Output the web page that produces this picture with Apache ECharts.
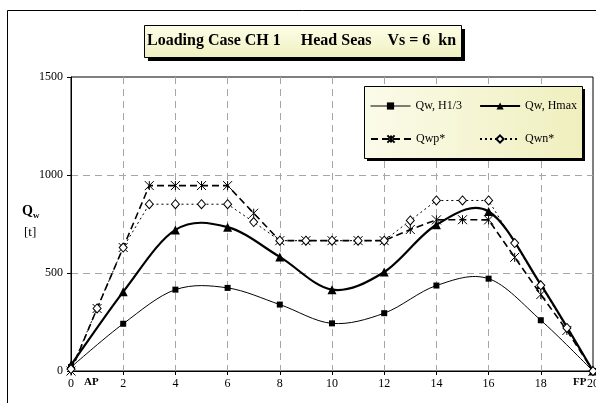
<!DOCTYPE html>
<html>
<head>
<meta charset="utf-8">
<script src="https://cdn.jsdelivr.net/npm/echarts@6/dist/echarts.min.js"></script>
<style>
html, body {margin: 0; padding: 0; background: #fff;}
#chart {width: 596px; height: 403px;}
</style>
</head>
<body>
<div id="chart"></div>
<script>
// stations along the ship
var evenX = [0, 2, 4, 6, 8, 10, 12, 14, 16, 18, 20];
var allX = [0, 1, 2, 3, 4, 5, 6, 7, 8, 9, 10, 11, 12, 13, 14, 15, 16, 17, 18, 19, 20];

var qwH13 = [20, 241, 415, 424, 339, 243, 295, 436, 471, 259, 0];
var qwHmax = [30, 404, 720, 734, 582, 415, 505, 746, 814, 441, 0];
var qwp = [0, 319, 630, 946, 946, 946, 946, 805, 665, 665, 665, 665, 665, 722, 771, 772, 771, 580, 390, 207, 0];
var qwn = [10, 319, 630, 851, 851, 851, 851, 760, 665, 665, 665, 665, 665, 768, 870, 870, 870, 653, 437, 220, 0];

var yTicks = [0, 500, 1000, 1500];
var xTicks = [0, 2, 4, 6, 8, 10, 12, 14, 16, 18, 20];

var serif = '"Liberation Serif", "DejaVu Serif", serif';

function pairs(xs, ys) {
    return xs.map(function (x, i) { return [x, ys[i]]; });
}

// excel style smoothed curve (bezier through the points)
function smoothCurve(xs, ys, width) {
    return function (params, api) {
        if (params.dataIndex !== 0) return null;
        var pts = xs.map(function (x, i) { return api.coord([x, ys[i]]); });
        var n = pts.length, kids = [];
        for (var i = 0; i < n - 1; i++) {
            var p0 = pts[Math.max(i - 1, 0)], p1 = pts[i], p2 = pts[i + 1], p3 = pts[Math.min(i + 2, n - 1)];
            kids.push({
                type: 'bezierCurve',
                shape: {
                    x1: p1[0], y1: p1[1], x2: p2[0], y2: p2[1],
                    cpx1: p1[0] + (p2[0] - p0[0]) / 6, cpy1: p1[1] + (p2[1] - p0[1]) / 6,
                    cpx2: p2[0] - (p3[0] - p1[0]) / 6, cpy2: p2[1] - (p3[1] - p1[1]) / 6
                },
                style: {stroke: '#000', lineWidth: width, fill: null}
            });
        }
        return {type: 'group', children: kids};
    };
}

var star = 'path://M0,0L10,10M10,0L0,10M5,0L5,10';
var yellowV = new echarts.graphic.LinearGradient(0, 0, 0, 1, [
    {offset: 0, color: '#fefee8'}, {offset: 1, color: '#efefc0'}
]);
var yellowH = new echarts.graphic.LinearGradient(0, 0, 1, 0, [
    {offset: 0, color: '#fbfbea'}, {offset: 1, color: '#efefbe'}
]);

var chart = echarts.init(document.getElementById('chart'));

function oneLegend(name, left, top, lineStyle) {
    var lg = {
        data: [name],
        left: left,
        top: top,
        z: 20,
        padding: 0,
        itemWidth: 40,
        itemHeight: 9,
        itemGap: 0,
        selectedMode: false,
        textStyle: {fontFamily: serif, fontSize: 12, color: '#000'}
    };
    if (lineStyle) lg.lineStyle = lineStyle;
    return lg;
}

chart.setOption({
    animation: false,
    backgroundColor: '#fff',
    grid: {
        left: 71, right: 3, top: 77, bottom: 32,
        outerBoundsMode: 'none',
        containLabel: false,
        show: true, borderColor: '#000', borderWidth: 1
    },
    legend: [
        oneLegend('Qw, H1/3', 370, 100, {color: '#000', width: 1, opacity: 1}),
        oneLegend('Qw, Hmax', 479, 100, {color: '#000', width: 2.2, opacity: 1}),
        oneLegend('Qwp*', 370, 133),
        oneLegend('Qwn*', 479, 133)
    ],
    xAxis: {
        type: 'value',
        min: 0, max: 20, interval: 2,
        axisLine: {lineStyle: {color: '#000', width: 1}},
        axisTick: {show: true, length: 4, lineStyle: {color: '#000'}},
        axisLabel: {
            fontFamily: serif, fontSize: 12, color: '#000', margin: 7,
            hideOverlap: false,
            formatter: function (v) { return xTicks.indexOf(v) >= 0 ? String(v) : ''; }
        },
        splitLine: {show: true, showMinLine: false, showMaxLine: false,
            lineStyle: {color: '#a6a6a6', type: [7, 5], width: 1}}
    },
    yAxis: {
        type: 'value',
        min: 0, max: 1500, interval: 500,
        axisLine: {show: true, lineStyle: {color: '#000', width: 1}},
        axisTick: {show: true, length: 4, lineStyle: {color: '#000'}},
        axisLabel: {
            fontFamily: serif, fontSize: 12, color: '#000', margin: 8,
            formatter: function (v) { return yTicks.indexOf(v) >= 0 ? String(v) : ''; }
        },
        splitLine: {show: true, showMinLine: false, showMaxLine: false,
            lineStyle: {color: '#a6a6a6', type: [7, 5], width: 1}}
    },
    graphic: [
        // outer chart frame
        {type: 'rect', z: 1, shape: {x: 7.5, y: 10.5, width: 600, height: 400},
            style: {fill: 'none', stroke: '#000', lineWidth: 1}},
        // title box with shadow
        {type: 'rect', z: 5, shape: {x: 148, y: 29, width: 317, height: 32}, style: {fill: '#000'}},
        {type: 'rect', z: 6, shape: {x: 144.5, y: 25.5, width: 317, height: 32},
            style: {fill: yellowV, stroke: '#000', lineWidth: 1}},
        {type: 'text', z: 7, left: 147, top: 33,
            style: {text: 'Loading Case CH 1     Head Seas    Vs = 6  kn',
                font: 'bold 16px ' + serif, fill: '#000'}},
        // legend box with shadow
        {type: 'rect', z: 5, shape: {x: 367, y: 89, width: 218, height: 72}, style: {fill: '#000'}},
        {type: 'rect', z: 6, shape: {x: 364.5, y: 86.5, width: 218, height: 72},
            style: {fill: yellowH, stroke: '#000', lineWidth: 1}},
        // axis name Q_w [t]
        {type: 'text', z: 7, left: 22, top: 204,
            style: {text: 'Q', font: 'bold 14px ' + serif, fill: '#000'}},
        {type: 'text', z: 7, left: 33, top: 211,
            style: {text: 'w', font: 'bold 9px ' + serif, fill: '#000'}},
        {type: 'text', z: 7, left: 24, top: 226,
            style: {text: '[t]', font: '13px ' + serif, fill: '#000'}},
        // AP / FP markers
        {type: 'text', z: 7, left: 84, top: 377,
            style: {text: 'AP', font: 'bold 11px ' + serif, fill: '#000'}},
        {type: 'text', z: 7, left: 573, top: 377,
            style: {text: 'FP', font: 'bold 11px ' + serif, fill: '#000'}}
    ],
    series: [
        {
            name: 'Qw, H1/3',
            type: 'line',
            z: 3,
            data: pairs(evenX, qwH13),
            symbol: 'rect',
            symbolSize: 6,
            itemStyle: {color: '#000'},
            lineStyle: {color: '#000', width: 1, opacity: 0}
        },
        {
            name: 'Qw, Hmax',
            type: 'line',
            z: 3,
            data: pairs(evenX, qwHmax),
            symbol: 'triangle',
            symbolSize: 9,
            itemStyle: {color: '#000'},
            lineStyle: {color: '#000', width: 2.2, opacity: 0}
        },
        {
            name: 'Qwp*',
            type: 'line',
            z: 3,
            data: pairs(allX, qwp),
            symbol: star,
            symbolSize: 9,
            itemStyle: {color: '#000', borderColor: '#000', borderWidth: 1},
            lineStyle: {color: '#000', width: 1.6, type: [7, 4]}
        },
        {
            name: 'Qwn*',
            type: 'line',
            z: 3,
            data: pairs(allX, qwn),
            symbol: 'diamond',
            symbolSize: [8, 9],
            itemStyle: {color: '#fff', borderColor: '#000', borderWidth: 1},
            lineStyle: {color: '#000', width: 1, type: [2, 3]}
        },
        {
            name: 'curveH13',
            type: 'custom',
            z: 2,
            data: pairs(evenX, qwH13),
            renderItem: smoothCurve(evenX, qwH13, 1)
        },
        {
            name: 'curveHmax',
            type: 'custom',
            z: 2,
            data: pairs(evenX, qwHmax),
            renderItem: smoothCurve(evenX, qwHmax, 2.2)
        }
    ]
});
</script>
</body>
</html>
